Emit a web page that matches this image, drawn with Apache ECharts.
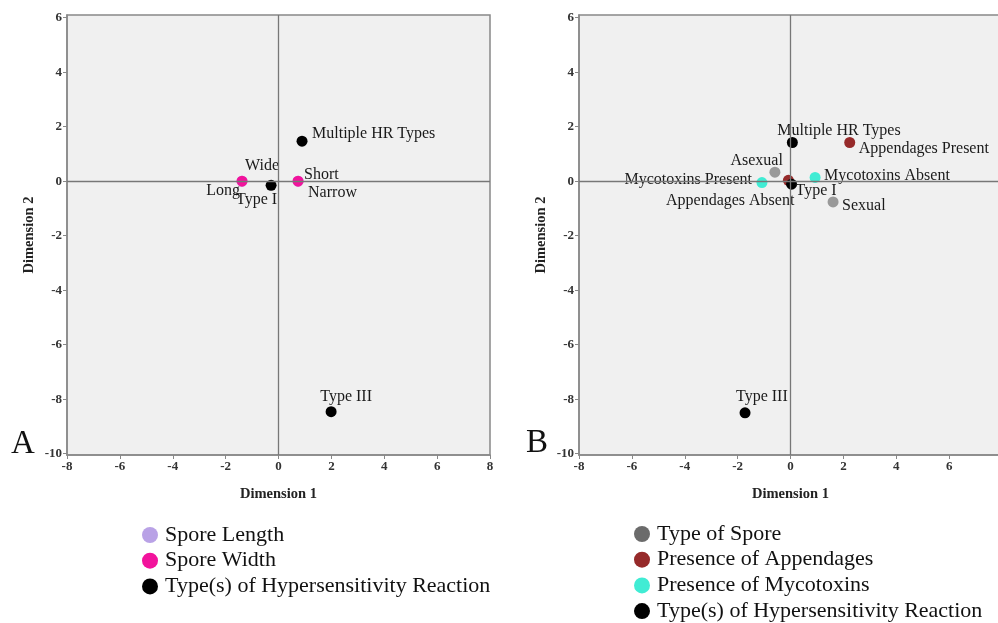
<!DOCTYPE html>
<html>
<head>
<meta charset="utf-8">
<script src="https://cdn.jsdelivr.net/npm/echarts@6.0.0/dist/echarts.min.js"></script>
<style>
html,body{margin:0;padding:0;background:#fff;}
#chart{width:998px;height:623px;}
</style>
</head>
<body>
<div id="chart"></div>
<script>
// ---------- DATA ----------
const tickValuesXA = [-8, -6, -4, -2, 0, 2, 4, 6, 8];
const tickValuesXB = [-8, -6, -4, -2, 0, 2, 4, 6];
const tickValuesY = [-10, -8, -6, -4, -2, 0, 2, 4, 6];

// Panel A
const aLengthNames = ['Long', 'Short'];
const aLengthX = [-1.38, 0.74];
const aLengthY = [0.0, 0.0];
const aWidthNames = ['Wide', 'Narrow'];
const aWidthX = [-1.38, 0.74];
const aWidthY = [0.0, 0.0];
const aHrNames = ['Multiple HR Types', 'Type I', 'Type III'];
const aHrX = [0.89, -0.28, 1.99];
const aHrY = [1.47, -0.15, -8.46];

// Panel B
const bSporeNames = ['Asexual', 'Sexual'];
const bSporeX = [-0.59, 1.61];
const bSporeY = [0.33, -0.76];
const bAppNames = ['Appendages Present', 'Appendages Absent'];
const bAppX = [2.24, -0.08];
const bAppY = [1.42, 0.03];
const bMycoNames = ['Mycotoxins Present', 'Mycotoxins Absent'];
const bMycoX = [-1.08, 0.93];
const bMycoY = [-0.05, 0.14];
const bHrNames = ['Multiple HR Types', 'Type I', 'Type III'];
const bHrX = [0.07, 0.04, -1.72];
const bHrY = [1.42, -0.11, -8.5];

const legendA = ['Spore Length', 'Spore Width', 'Type(s) of Hypersensitivity Reaction'];
const legendB = ['Type of Spore', 'Presence of Appendages', 'Presence of Mycotoxins', 'Type(s) of Hypersensitivity Reaction'];

// ---------- STYLES ----------
const serif = '"Liberation Serif", "Times New Roman", serif';
const labelA = {
  'Multiple HR Types': ['left', 10, -7],
  'Wide': ['left', 3, -15],
  'Long': ['right', -2, 10],
  'Type I': ['right', 6, 15],
  'Short': ['left', 6, -6],
  'Narrow': ['left', 10, 12],
  'Type III': ['center', 15, -15]
};
const labelB = {
  'Multiple HR Types': ['left', -15, -12],
  'Appendages Present': ['left', 9, 6],
  'Asexual': ['right', 8, -11],
  'Mycotoxins Present': ['right', -10, -3],
  'Appendages Absent': ['right', 6, 20],
  'Type I': ['left', 4, 7],
  'Mycotoxins Absent': ['left', 9, -2],
  'Sexual': ['left', 9, 4],
  'Type III': ['left', -9, -16]
};

function pts(names, xs, ys, lab) {
  return names.map((n, i) => {
    const l = lab[n];
    return {
      name: n,
      value: [xs[i], ys[i]],
      label: {
        show: true, position: 'inside', align: l[0], verticalAlign: 'middle',
        offset: [l[1], l[2]], formatter: n
      }
    };
  });
}

function axisX(gi, ticks) {
  return {
    type: 'value', gridIndex: gi, min: -8, max: 8,
    name: 'Dimension 1', nameLocation: 'middle', nameGap: 32,
    nameTextStyle: { fontFamily: serif, fontWeight: 'bold', fontSize: 14.5, color: '#222' },
    axisLine: { show: true, onZero: false, lineStyle: { color: '#888', width: 1.5 } },
    axisTick: { show: true, inside: false, length: 4, customValues: ticks, lineStyle: { color: '#888' } },
    axisLabel: { customValues: ticks, fontFamily: serif, fontWeight: 'bold', fontSize: 13, color: '#333', margin: 5 },
    splitLine: { show: false }
  };
}
function axisY(gi) {
  return {
    type: 'value', gridIndex: gi, min: -10.05, max: 6.1,
    name: 'Dimension 2', nameLocation: 'middle', nameGap: 30, nameRotate: 90,
    nameTextStyle: { fontFamily: serif, fontWeight: 'bold', fontSize: 14.5, color: '#222' },
    axisLine: { show: true, onZero: false, lineStyle: { color: '#888', width: 1.5 } },
    axisTick: { show: true, inside: false, length: 4, customValues: tickValuesY, lineStyle: { color: '#888' } },
    axisLabel: { customValues: tickValuesY, fontFamily: serif, fontWeight: 'bold', fontSize: 13, color: '#333', margin: 5 },
    splitLine: { show: false }
  };
}

const zeroLines = {
  silent: true, symbol: 'none', label: { show: false },
  lineStyle: { color: '#777', width: 1.3, type: 'solid' },
  data: [{ xAxis: 0 }, { yAxis: 0 }],
  animation: false
};

const labelText = { fontFamily: serif, fontSize: 16, color: '#1a1a1a' };

function scatter(name, gi, data, color, extra) {
  return Object.assign({
    type: 'scatter', name: name, xAxisIndex: gi, yAxisIndex: gi,
    symbol: 'circle', symbolSize: 11,
    itemStyle: { color: color, opacity: 1 },
    label: labelText,
    data: data
  }, extra || {});
}

const legendCommon = {
  orient: 'vertical', itemWidth: 16, itemHeight: 16, itemGap: 3.7, padding: 0,
  icon: 'circle', selectedMode: false, height: 130, width: 400,
  textStyle: { fontFamily: serif, fontSize: 22, lineHeight: 22, color: '#111', padding: [0, 0, 0, 2] }
};

const option = {
  animation: false,
  backgroundColor: '#fff',
  grid: [
    { left: 67, top: 15, width: 423, height: 440, show: true, backgroundColor: '#f0f0f0', borderColor: '#888', borderWidth: 1.5, outerBoundsMode: 'none', containLabel: false },
    { left: 579, top: 15, width: 423, height: 440, show: true, backgroundColor: '#f0f0f0', borderColor: '#888', borderWidth: 1.5, outerBoundsMode: 'none', containLabel: false }
  ],
  xAxis: [axisX(0, tickValuesXA), axisX(1, tickValuesXB)],
  yAxis: [axisY(0), axisY(1)],
  legend: [
    Object.assign({}, legendCommon, {
      left: 142, top: 524,
      data: legendA.map(n => ({ name: n }))
    }),
    Object.assign({}, legendCommon, {
      left: 634, top: 523,
      data: [
        { name: legendB[0], itemStyle: { color: '#6b6b6b' } },
        { name: legendB[1] },
        { name: legendB[2] },
        { name: legendB[3] }
      ]
    })
  ],
  graphic: [
    { type: 'text', left: 11, top: 428, style: { text: 'A', font: '33px ' + serif, fill: '#111' } },
    { type: 'text', left: 526, top: 427, style: { text: 'B', font: '33px ' + serif, fill: '#111' } }
  ],
  series: [
    scatter(legendA[0], 0, pts(aLengthNames, aLengthX, aLengthY, labelA), '#b9a2e6', { markLine: zeroLines }),
    scatter(legendA[1], 0, pts(aWidthNames, aWidthX, aWidthY, labelA), '#f2139c'),
    scatter(legendA[2], 0, pts(aHrNames, aHrX, aHrY, labelA), '#000000'),
    scatter(legendB[0], 1, pts(bSporeNames, bSporeX, bSporeY, labelB), '#999999', { markLine: zeroLines }),
    scatter(legendB[1], 1, pts(bAppNames, bAppX, bAppY, labelB), '#962a2a'),
    scatter(legendB[2], 1, pts(bMycoNames, bMycoX, bMycoY, labelB), '#40ecd4'),
    scatter(legendB[3], 1, pts(bHrNames, bHrX, bHrY, labelB), '#000000')
  ]
};

const chart = echarts.init(document.getElementById('chart'), null, { renderer: 'canvas' });
chart.setOption(option);
</script>
</body>
</html>
